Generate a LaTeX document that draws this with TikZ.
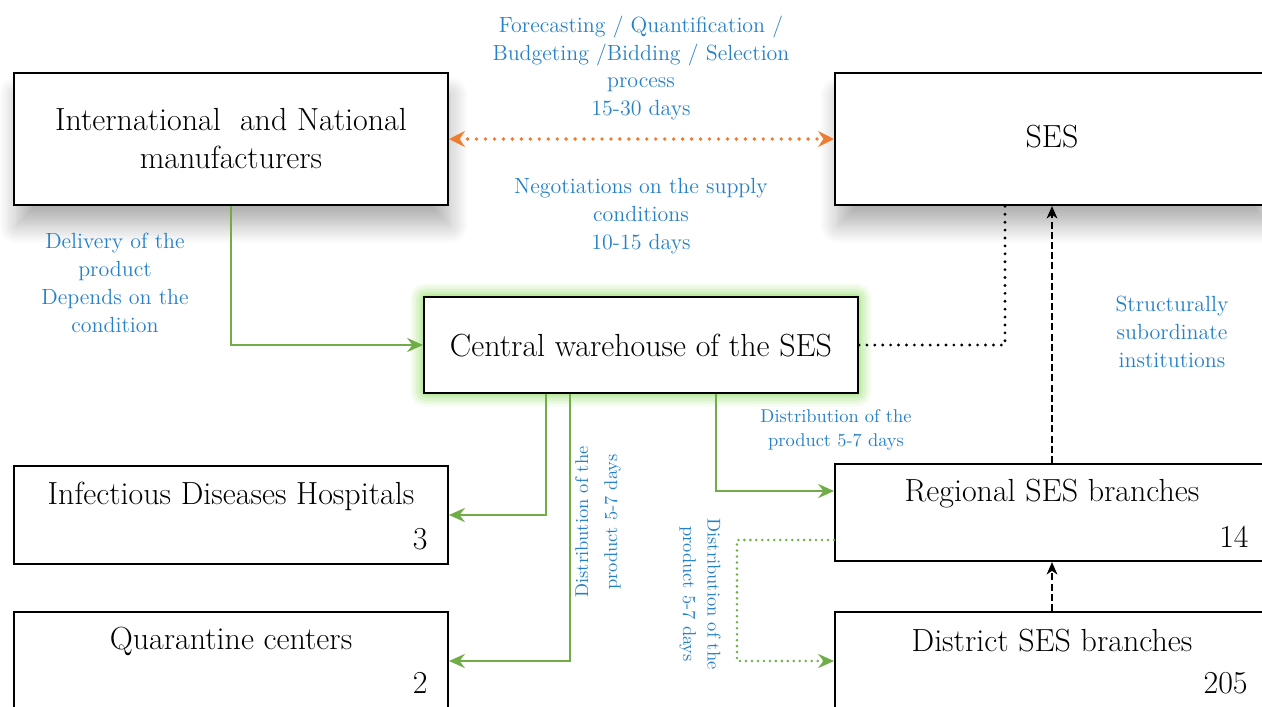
\documentclass[tikz,border=0pt]{standalone}
\usepackage{tikz}
\usetikzlibrary{arrows.meta,calc,positioning,backgrounds,shadows.blur}
\usepackage{xcolor}
\definecolor{flowgreen}{RGB}{112,173,71}
\definecolor{glowgreen}{RGB}{150,222,105}
\definecolor{noteblue}{RGB}{36,128,200}
\definecolor{dealorange}{RGB}{237,125,49}

\begin{document}
\begin{tikzpicture}[x=0.02cm,y=-0.02cm,
  box/.style={draw,line width=1.2pt,fill=white,minimum width=8.68cm,inner sep=0pt},
  boxtext/.style={font=\fontsize{18.2}{21.6}\selectfont,align=center,inner sep=0pt},
  note/.style={text=noteblue,font=\fontsize{12.5}{15.9}\selectfont,align=center,inner sep=0pt},
  smallnote/.style={text=noteblue,font=\fontsize{10.5}{14}\selectfont,align=center,inner sep=0pt},
  topshadow/.style={blur shadow={shadow xshift=0.05cm,shadow yshift=-0.42cm,shadow blur radius=0.35cm,shadow blur steps=12,shadow opacity=30}},
  flow/.style={draw=flowgreen,line width=1.5pt,-{Stealth[length=9pt,width=8pt,inset=3pt]}},
  deal/.style={dealorange,line width=2.2pt,line cap=round,dash pattern=on 0pt off 5.1pt,
    {Stealth[length=9pt,width=9pt,inset=3pt]}-{Stealth[length=9pt,width=9pt,inset=3pt]}},
  link/.style={line width=1.8pt,line cap=round,dash pattern=on 0pt off 4.5pt},
  report/.style={line width=1.4pt,dash pattern=on 4pt off 1.8pt,-{Stealth[length=7pt,width=6pt,inset=2pt]}}]
\useasboundingbox (0,0) rectangle (1262,707);
\clip (0,0) rectangle (1262,707);

% boxes
\node[box,topshadow,minimum height=2.64cm] (mfr) at (231,139) {};
\node[box,topshadow,minimum height=2.64cm] (ses) at (1052,139) {};
\node[box,minimum height=1.92cm] (wh) at (641,345) {};
\node[box,minimum height=1.96cm] (hosp) at (231,515) {};
\node[box,minimum height=1.96cm] (quar) at (231,661) {};
\node[box,minimum height=1.94cm] (reg) at (1052,512.5) {};
\node[box,minimum height=1.96cm] (dist) at (1052,661) {};

% glow round the warehouse
\begin{scope}[on background layer]
\foreach \w/\o in {14/0.1,11/0.12,8/0.15,5/0.2,2/0.3}
  \draw[glowgreen,line width=\w pt,opacity=\o,rounded corners=2pt] (wh.south west) rectangle (wh.north east);
\end{scope}

% box texts
\node[boxtext] (mfrtxt) at (231,139) {International\ \ and National\\manufacturers};
\node[boxtext] (sestxt) at (1052,137) {SES};
\node[boxtext] (whtxt) at (641,346) {Central warehouse of the SES};
\node[boxtext] (hosptxt) at (231,496) {Infectious Diseases Hospitals};
\node[boxtext,anchor=east] (hospnum) at (428,539) {3};
\node[boxtext] (quartxt) at (231,641) {Quarantine centers};
\node[boxtext,anchor=east] (quarnum) at (428,683) {2};
\node[boxtext] (regtxt) at (1052,494) {Regional SES branches};
\node[boxtext,anchor=east] (regnum) at (1249,537) {14};
\node[boxtext] (disttxt) at (1052,641) {District SES branches};
\node[boxtext,anchor=east] (distnum) at (1248,683) {205};

% notes
\node[note] (forecast) at (641,68) {Forecasting / Quantification /\\Budgeting /Bidding / Selection\\process\\15-30 days};
\node[note] (nego) at (641,216) {Negotiations on the supply\\conditions\\10-15 days};
\node[note] (deliv) at (115,283) {Delivery of the\\product\\Depends on the\\condition};
\node[note] (subord) at (1172,332) {Structurally\\subordinate\\institutions};
\node[smallnote] (distlbl) at (836,430) {Distribution of the\\product 5-7 days};
\node[smallnote,rotate=90,font=\fontsize{10.5}{16.4}\selectfont] (distup) at (598,522) {Distribution of the\\product 5-7 days};
\node[smallnote,rotate=-90] (distdown) at (700,594) {Distribution of the\\product 5-7 days};

% connectors
\draw[deal] (mfr.east) -- (ses.west);
\draw[flow] (mfr.south) |- (wh.west);
\draw[flow] ([xshift=-1.9cm]wh.south) |- (hosp.east);
\draw[flow] ([xshift=-1.42cm]wh.south) |- (quar.east);
\draw[flow] ([xshift=1.5cm]wh.south) |- ([yshift=0.43cm]reg.west);
\draw[flow,line width=1.6pt,line cap=round,dash pattern=on 0pt off 3.4pt] ([yshift=-0.55cm]reg.west) -- ++(-1.94cm,0) |- (dist.west);
\draw[link] (wh.east) -| ([xshift=-0.94cm]ses.south);
\draw[report] (reg.north) -- (ses.south);
\draw[report] (dist.north) -- (reg.south);
\end{tikzpicture}
\end{document}
